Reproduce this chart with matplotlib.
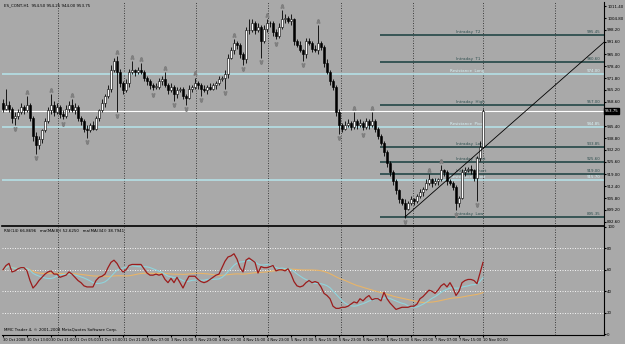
import numpy as np
import pandas as pd
import matplotlib
matplotlib.use("Agg")
import matplotlib.pyplot as plt
import matplotlib.transforms as mtransforms

# ---- data (H1 bars) ----
closes = [
    955, 957, 955, 950, 951, 953, 956, 954, 957, 950,
    940, 935, 938, 943, 948, 954, 957, 953, 956, 952,
    951, 955, 957, 954, 956, 950, 948, 944, 943, 946,
    944, 950, 954, 958, 962, 966, 976, 981, 975, 969,
    965, 969, 975, 976, 975, 976, 975, 972, 970, 968,
    967, 967, 970, 971, 968, 965, 967, 963, 965, 966,
    962, 961, 966, 967, 969, 968, 966, 965, 967, 966,
    968, 969, 971, 972, 974, 983, 987, 991, 990, 985,
    982, 998, 998, 1002, 998, 1000, 992, 999, 1002, 1002,
    997, 995, 1000, 1004, 1005, 1003, 1004, 992, 990, 987,
    985, 992, 991, 988, 987, 991, 989, 980, 975, 970,
    967, 953, 946, 944, 946, 947, 945, 948, 946, 947,
    945, 948, 946, 948, 944, 940, 936, 931, 925, 920,
    915, 910, 905, 903, 900, 903, 905, 904, 907, 909,
    911, 914, 916, 914, 915, 916, 921, 920, 915, 914,
    912, 903, 906, 920, 921, 922, 921, 917, 928, 934,
    953.75,
]
first_open = 958
wick_up = [
    2, 9, 2, 1, 2, 2, 2, 1, 5, 1,
    1, 2, 2, 1, 2, 2, 6, 2, 2, 1,
    2, 2, 2, 3, 2, 1, 1, 1, 2, 1,
    2, 1, 1, 2, 1, 2, 3, 2, 3, 2,
    1, 2, 2, 5, 1, 2, 4, 1, 1, 1,
    1, 2, 2, 2, 4, 1, 2, 1, 2, 1,
    1, 1, 2, 1, 3, 1, 1, 2, 1, 2,
    1, 1, 2, 1, 2, 2, 2, 2, 1, 1,
    1, 2, 6, 2, 1, 2, 1, 2, 2, 1,
    1, 2, 2, 5, 2, 1, 3, 1, 1, 2,
    1, 2, 2, 1, 2, 10, 1, 1, 2, 1,
    1, 1, 2, 1, 2, 2, 1, 5, 1, 2,
    1, 2, 1, 5, 1, 1, 1, 1, 1, 1,
    1, 1, 1, 1, 2, 1, 2, 1, 1, 2,
    1, 2, 3, 1, 2, 1, 3, 1, 1, 1,
    1, 1, 1, 2, 2, 1, 2, 1, 1, 3,
    1,
]
wick_dn = [
    2, 1, 2, 3, 4, 2, 1, 2, 1, 2,
    3, 5, 2, 2, 1, 1, 2, 2, 1, 2,
    2, 1, 2, 1, 2, 2, 2, 2, 4, 1,
    1, 1, 2, 1, 2, 1, 2, 1, 22, 2,
    2, 1, 2, 1, 2, 1, 1, 2, 2, 2,
    2, 1, 1, 2, 1, 2, 1, 4, 2, 1,
    2, 4, 1, 2, 1, 2, 4, 1, 2, 1,
    1, 2, 1, 1, 6, 2, 1, 2, 2, 2,
    3, 2, 2, 1, 2, 1, 9, 1, 2, 2,
    2, 2, 1, 1, 2, 1, 2, 2, 1, 1,
    4, 2, 1, 2, 1, 2, 2, 2, 1, 2,
    2, 2, 5, 2, 1, 1, 2, 1, 2, 1,
    2, 1, 2, 1, 2, 2, 1, 2, 2, 2,
    2, 2, 2, 1, 5, 1, 1, 2, 1, 1,
    2, 1, 1, 2, 1, 2, 1, 2, 2, 1,
    2, 4, 2, 1, 2, 1, 2, 2, 13, 2,
    0,
]

rsi = [
    60, 64, 66, 58, 59, 61, 62, 62, 59, 50,
    43, 46, 50, 53, 56, 58, 59, 56, 56, 53,
    54, 55, 58, 56, 53, 50, 48, 45, 44, 44,
    44, 50, 53, 54, 56, 62, 67, 69, 66, 61,
    58, 60, 64, 65, 65, 65, 65, 61, 57, 55,
    55, 56, 55, 56, 51, 48, 52, 48, 53, 48,
    43, 49, 54, 54, 54, 51, 49, 48, 49, 51,
    53, 55, 56, 62, 68, 72, 73, 75, 70, 62,
    58, 69, 71, 69, 67, 57, 63, 62, 62, 63,
    64, 59, 60, 60, 59, 61, 56, 49, 45, 44,
    45, 48, 50, 48, 49, 48, 44, 38, 36, 33,
    26, 24, 24, 25, 25, 26, 28, 30, 29, 33,
    31, 34, 36, 32, 33, 33, 31, 39, 33, 29,
    26, 23, 24, 25, 25, 25, 26, 26, 28, 33,
    35, 38, 41, 40, 38, 41, 45, 47, 44, 48,
    43, 36, 40, 48, 50, 51, 51, 50, 47, 57,
    67,
]

level_names = ["Intraday  T2", "Intraday  T1", "Intraday  High", "Intraday  Long",
               "Intraday  Pivot", "Intraday  Short", "Intraday  Low"]
level_prices = [995.45, 980.60, 957.00, 933.85, 925.60, 919.00, 895.35]
zone_names = ["Resistance  Long", "Resistance  Pivot", "Resistance  Short"]
zone_prices = [974.00, 944.85, 915.70]
current_price = 953.75

trend_bars = [134, 200]
trend_prices = [895.4, 991.0]

day_starts = [18.5, 40.5, 64.5, 88.5, 112.5, 136.5, 160, 184]

price_ticks = [1011.40, 1004.80, 998.20, 991.60, 985.00, 978.40, 971.80, 965.20,
               958.60, 945.40, 938.80, 932.20, 925.60, 919.00, 912.40, 905.80,
               899.20, 892.60]
time_labels = ["30 Oct 2008", "30 Oct 13:00", "30 Oct 21:00", "31 Oct 05:00",
               "31 Oct 13:00", "31 Oct 21:00", "3 Nov 07:00", "3 Nov 15:00",
               "3 Nov 23:00", "4 Nov 07:00", "4 Nov 15:00", "4 Nov 23:00",
               "5 Nov 07:00", "5 Nov 15:00", "5 Nov 23:00", "6 Nov 07:00",
               "6 Nov 15:00", "6 Nov 23:00", "7 Nov 07:00", "7 Nov 15:00",
               "10 Nov 00:00"]
time_label_bars = list(range(0, 161, 8))

# ---- derived OHLC ----
c = np.array(closes, dtype=float)
o = np.concatenate([[first_open], c[:-1]])
hi = np.maximum(o, c) + np.array(wick_up)
lo = np.minimum(o, c) - np.array(wick_dn)
n = len(c)
x = np.arange(n)

BG = "#a9a9a9"
DARK = "#2f4f4f"
CYAN = "#b4e0e6"
TXT = 2.9

fig = plt.figure(figsize=(6.25, 3.44), dpi=100, facecolor=BG)
W, H = 625.0, 344.0
ax = fig.add_axes([2 / W, 1 - 226 / H, 602 / W, 224 / H], facecolor=BG)
ax2 = fig.add_axes([2 / W, 1 - 335 / H, 602 / W, 108 / H], facecolor=BG)

xmin, xmax = -0.33, 200.33
ax.set_xlim(xmin, xmax)
ax.set_ylim(890.4, 1013.6)

# day separators
for d in day_starts:
    ax.axvline(d, color="#303030", lw=0.6, ls=(0, (1.2, 1.8)), zorder=1)
    ax2.axvline(d, color="#303030", lw=0.6, ls=(0, (1.2, 1.8)), zorder=1)

# full-width zones and current price
for p in zone_prices:
    ax.axhline(p, color=CYAN, lw=1.2, zorder=2)
ax.axhline(current_price, color="white", lw=0.8, zorder=2)

# intraday levels (start at the right part of the chart)
for p in level_prices:
    ax.hlines(p, 125.7, xmax, color=DARK, lw=1.3, zorder=2)
for name, p in zip(level_names, level_prices):
    ax.text(151, p + 0.4, name, fontsize=TXT, color=DARK, va="bottom", ha="left", zorder=3)
    ax.text(199, p + 0.4, f"{p:.2f}", fontsize=TXT, color=DARK, va="bottom", ha="right", zorder=3)
for name, p in zip(zone_names, zone_prices):
    ax.text(149, p + 0.4, name, fontsize=TXT, color="#d8f4f8", va="bottom", ha="left", zorder=3)
    ax.text(199, p + 0.4, f"{p:.2f}", fontsize=TXT, color="#d8f4f8", va="bottom", ha="right", zorder=3)

# candles
ax.vlines(x, lo, hi, color="black", lw=0.6, zorder=4)
body_lo = np.minimum(o, c)
body_h = np.maximum(np.abs(c - o), 0.15)
cols = np.where(c >= o, "white", "black")
ax.bar(x, body_h, bottom=body_lo, width=0.62, color=cols, edgecolor="black",
       linewidth=0.4, zorder=5)

# fractals
up_idx = [i for i in range(2, n - 2) if hi[i] > max(hi[i - 2], hi[i - 1], hi[i + 1], hi[i + 2])]
dn_idx = [i for i in range(2, n - 2) if lo[i] < min(lo[i - 2], lo[i - 1], lo[i + 1], lo[i + 2])]
t_up = mtransforms.offset_copy(ax.transData, fig=fig, x=0, y=3, units="points")
t_dn = mtransforms.offset_copy(ax.transData, fig=fig, x=0, y=-3, units="points")
ax.plot(x[up_idx], hi[up_idx], ls="none", marker=r"$\wedge$", ms=2.4, color="#808080",
        transform=t_up, zorder=6)
ax.plot(x[dn_idx], lo[dn_idx], ls="none", marker=r"$\vee$", ms=2.4, color="#808080",
        transform=t_dn, zorder=6)

# trend line extended to the right edge
slope = (trend_prices[1] - trend_prices[0]) / (trend_bars[1] - trend_bars[0])
ax.plot([trend_bars[0], xmax], [trend_prices[0], trend_prices[0] + slope * (xmax - trend_bars[0])],
        color="black", lw=0.6, zorder=6)

# price axis
ax.yaxis.tick_right()
ax.set_yticks(price_ticks)
ax.set_yticklabels([f"{v:.2f}" for v in price_ticks])
ax.tick_params(axis="y", labelsize=TXT, length=1.5, pad=0.8, colors="black")
ax.set_xticks([])
ax.text(xmax + 0.3, current_price, f"{current_price:.2f}", fontsize=TXT, color="white",
        va="center", ha="left", zorder=7, clip_on=False,
        bbox=dict(boxstyle="square,pad=0.2", fc="black", ec="black"))
for s in ["top", "left"]:
    ax.spines[s].set_visible(False)
ax.spines["right"].set_linewidth(0.8)
ax.spines["bottom"].set_linewidth(1.2)

fig.text(4 / W, 1 - 5 / H, "ES_CONT,H1  954.50 954.25 944.00 953.75", fontsize=TXT,
         color="black", va="center", ha="left")

# ---- RSI window ----
rs = pd.Series(rsi, dtype=float)
ma_fast = rs.rolling(8, min_periods=1).mean()
ma_slow = rs.rolling(34, min_periods=1).mean()
ax2.set_xlim(xmin, xmax)
ax2.set_ylim(-0.9, 99.1)
for lv in [20, 40, 60, 80]:
    ax2.axhline(lv, color="white", lw=0.6, ls=(0, (1.2, 1.8)), zorder=1)
ax2.plot(x, ma_slow, color="#e8b468", lw=0.8, zorder=3)
ax2.plot(x, ma_fast, color="#8fd4dc", lw=0.8, zorder=3)
ax2.plot(x, rs, color="#9b1c1c", lw=0.9, zorder=4)
ax2.yaxis.tick_right()
ax2.set_yticks([0, 20, 40, 60, 80, 100])
ax2.tick_params(axis="y", labelsize=TXT, length=1.5, pad=0.8)
ax2.set_xticks(time_label_bars)
ax2.set_xticklabels(time_labels)
ax2.tick_params(axis="x", labelsize=2.6, length=1.5, pad=0.8)
for lab in ax2.get_xticklabels():
    lab.set_ha("left")
for s in ["top", "left"]:
    ax2.spines[s].set_visible(False)
ax2.spines["right"].set_linewidth(0.8)
ax2.spines["bottom"].set_linewidth(0.8)

fig.text(4 / W, 1 - 231 / H,
         f"RSI(14) {rsi[-1] - 0.1304:.4f}   ma(MA(8)) {ma_fast.iloc[-1]:.4f}   ma(MA(34)) {ma_slow.iloc[-1]:.4f}",
         fontsize=TXT, color="black", va="center", ha="left")
fig.text(4 / W, 1 - 330 / H, "MMC Trader 4, \u00a9 2001-2008 MetaQuotes Software Corp.",
         fontsize=TXT, color="black", va="center", ha="left")

fig.savefig("out.png", dpi=100, facecolor=BG)
